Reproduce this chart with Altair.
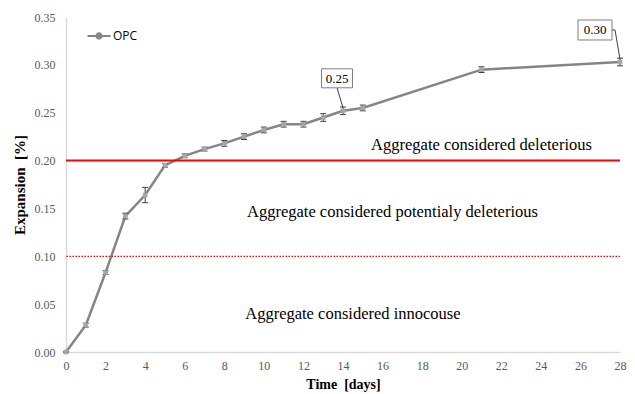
import altair as alt
import pandas as pd

# ---- data ----
days = [0, 1, 2, 3, 4, 5, 6, 7, 8, 9, 10, 11, 12, 13, 14, 15, 21, 28]
expansion = [0.000, 0.028, 0.083, 0.142, 0.164, 0.195, 0.205, 0.212, 0.218,
             0.225, 0.232, 0.238, 0.238, 0.245, 0.252, 0.255, 0.295, 0.303]
error = [0.000, 0.002, 0.002, 0.003, 0.008, 0.002, 0.002, 0.002, 0.003,
         0.003, 0.003, 0.003, 0.003, 0.004, 0.004, 0.003, 0.003, 0.004]
series = ["OPC"]

limit_values = [0.20, 0.10]

zone_labels = ["Aggregate considered deleterious",
               "Aggregate considered potentialy deleterious",
               "Aggregate considered innocouse"]
zone_day = [21.0, 16.5, 14.5]
zone_value = [0.216, 0.146, 0.040]

callout_day = [14, 28]
callout_text = ["0.25", "0.30"]

x_ticks = list(range(0, 29, 2))
y_ticks = [0.00, 0.05, 0.10, 0.15, 0.20, 0.25, 0.30, 0.35]
x_title = "Time\u00a0 [days]"
y_title = "Expansion\u00a0 [%]"

# ---- tables ----
df = pd.DataFrame({"day": days, "exp": expansion, "err": error})
df["lo"] = df["exp"] - df["err"]
df["hi"] = df["exp"] + df["err"]
df["series"] = series[0]

zones = pd.DataFrame({"label": zone_labels, "day": zone_day, "val": zone_value})
calls = pd.DataFrame({"day": callout_day, "text": callout_text})
calls["val"] = [expansion[days.index(d)] for d in callout_day]

serif = "Liberation Serif"
gray = "#858585"

xs = alt.Scale(domain=[0, 28], nice=False)
ys = alt.Scale(domain=[0, 0.35], nice=False)
x_axis = alt.Axis(values=x_ticks, title=x_title, format="d",
                  labelOverlap=False, labelFlush=False, tickCount=15,
                  titleFontSize=14)
y_axis = alt.Axis(values=y_ticks, title=y_title, format=".2f",
                  labelOverlap=False, labelFlush=False, titleFontSize=15)


def XQ(field):
    return alt.X(field, type="quantitative", scale=xs, axis=x_axis)


def YQ(field):
    return alt.Y(field, type="quantitative", scale=ys, axis=y_axis)


base = alt.Chart(df)

line = base.mark_line(strokeWidth=2.5).encode(
    x=XQ("day"), y=YQ("exp"),
    color=alt.Color("series:N", scale=alt.Scale(domain=series, range=[gray]),
                    legend=alt.Legend(orient="none", legendX=20, legendY=6,
                                      title=None, labelFont="Open Sans",
                                      labelFontSize=12, labelColor="#000000",
                                      symbolType="M-1,0H1M-0.22,0A0.22,0.22 0 1,1 0.22,0A0.22,0.22 0 1,1 -0.22,0",
                                      symbolSize=530, symbolStrokeWidth=2.2,
                                      symbolFillColor="#a6a6a6",
                                      symbolStrokeColor=gray, labelOffset=1))
)

pts = base.mark_point(shape="square", filled=True, size=22, color="#a6a6a6",
                      opacity=1).encode(x=XQ("day"), y=YQ("exp"))

err_rule = base.mark_rule(color="#404040", strokeWidth=1).encode(
    x=XQ("day"), y=YQ("lo"), y2="hi:Q")
cap_hi = base.mark_rule(color="#404040", strokeWidth=1, xOffset=-3, x2Offset=3).encode(
    x=XQ("day"), x2="day:Q", y=YQ("hi"))
cap_lo = base.mark_rule(color="#404040", strokeWidth=1, xOffset=-3, x2Offset=3).encode(
    x=XQ("day"), x2="day:Q", y=YQ("lo"))

lim = pd.DataFrame({"v": limit_values})
lim_solid = alt.Chart(lim).transform_filter(alt.datum.v == limit_values[0]).mark_rule(
    color="#ff0000", strokeWidth=2).encode(y=YQ("v"))
lim_dot = alt.Chart(lim).transform_filter(alt.datum.v == limit_values[1]).mark_rule(
    color="#ff0000", strokeWidth=1.3, strokeDash=[1.5, 1.5]).encode(y=YQ("v"))

zone_txt = alt.Chart(zones).mark_text(font=serif, fontSize=16.5, color="#000000").encode(
    x=XQ("day"), y=YQ("val"), text="label:N")

cb = alt.Chart(calls)
c0 = cb.transform_filter(alt.datum.day == callout_day[0])
c1 = cb.transform_filter(alt.datum.day == callout_day[1])

lead0 = c0.mark_rule(color="#404040", strokeWidth=1, xOffset=-6, yOffset=-23,
                     x2Offset=0, y2Offset=-3).encode(
    x=XQ("day"), x2="day:Q", y=YQ("val"), y2="val:Q")
box0 = c0.mark_rect(fill="white", stroke="#7f7f7f", strokeWidth=1,
                    xOffset=-21.5, x2Offset=9.5, yOffset=-23, y2Offset=-42).encode(
    x=XQ("day"), x2="day:Q", y=YQ("val"), y2="val:Q")
txt0 = c0.mark_text(font=serif, fontSize=13, color="#000000", dx=-6, dy=-32).encode(
    x=XQ("day"), y=YQ("val"), text="text:N")

lead1a = c1.mark_rule(color="#404040", strokeWidth=1, xOffset=-8, yOffset=-32,
                      x2Offset=-5, y2Offset=-32).encode(
    x=XQ("day"), x2="day:Q", y=YQ("val"), y2="val:Q")
lead1b = c1.mark_rule(color="#404040", strokeWidth=1, xOffset=-5, yOffset=-32,
                      x2Offset=0, y2Offset=-3).encode(
    x=XQ("day"), x2="day:Q", y=YQ("val"), y2="val:Q")
box1 = c1.mark_rect(fill="white", stroke="#7f7f7f", strokeWidth=1,
                    xOffset=-42, x2Offset=-8, yOffset=-22, y2Offset=-42).encode(
    x=XQ("day"), x2="day:Q", y=YQ("val"), y2="val:Q")
txt1 = c1.mark_text(font=serif, fontSize=13, color="#000000", dx=-25, dy=-32).encode(
    x=XQ("day"), y=YQ("val"), text="text:N")

chart = alt.layer(
    line, lim_dot, lim_solid, zone_txt, err_rule, cap_hi, cap_lo, pts,
    lead0, box0, txt0, lead1a, lead1b, box1, txt1
).properties(
    width=554, height=335,
    autosize=alt.AutoSizeParams(type="none"),
    padding={"left": 66, "top": 17, "right": 15, "bottom": 42},
    background="white",
).configure_view(stroke=None).configure_axis(
    grid=False, ticks=False, domainColor="#d9d9d9", domainWidth=1.5,
    labelFont=serif, labelFontSize=12, labelColor="#595959",
    titleFont=serif, titleFontWeight="bold", titleColor="#000000",
).configure_axisX(labelPadding=8, titlePadding=6).configure_axisY(
    labelPadding=11, titlePadding=7)

chart.save("out.html", embed_options={"renderer": "svg", "actions": False})
